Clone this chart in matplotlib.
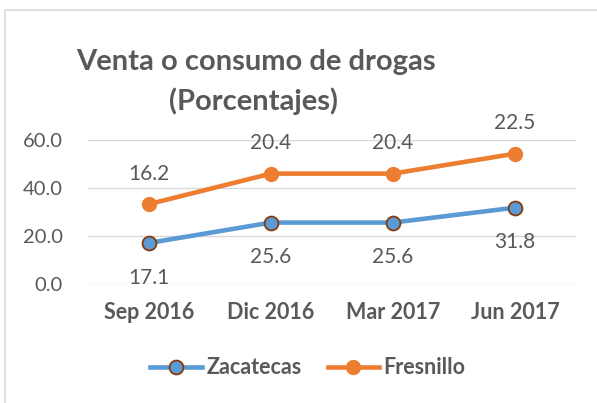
import numpy as np
import matplotlib.pyplot as plt
from matplotlib.patches import Rectangle

# Data (stacked line chart: Fresnillo drawn on top of Zacatecas)
categories = ["Sep 2016", "Dic 2016", "Mar 2017", "Jun 2017"]
zacatecas = [17.1, 25.6, 25.6, 31.8]
fresnillo = [16.2, 20.4, 20.4, 22.5]
yticks = [0, 20, 40, 60]

blue = "#5B9BD5"
orange = "#ED7D31"
brown = "#843C0C"
gray = "#595959"

plt.rcParams['font.family'] = ['Lato', 'DejaVu Sans']

W, H = 597, 403
fig = plt.figure(figsize=(W / 100, H / 100), dpi=100)

# light chart border
fig.patches.append(Rectangle((5 / W, -0.1), 1.2, (H - 10) / H + 0.1,
                             transform=fig.transFigure, fill=False,
                             edgecolor="#D9D9D9", linewidth=1.2))

ax = fig.add_axes([88 / W, 119 / H, 488 / W, 144 / H])
x = np.arange(len(categories))
top = np.array(zacatecas) + np.array(fresnillo)

ax.plot(x, zacatecas, color=blue, linewidth=3.3, marker='o', markersize=10,
        markerfacecolor=blue, markeredgecolor=brown, markeredgewidth=1.3,
        label="Zacatecas", zorder=3)
ax.plot(x, top, color=orange, linewidth=3.3, marker='o', markersize=10,
        markerfacecolor=orange, markeredgecolor=orange,
        label="Fresnillo", zorder=3)

for xi, v in zip(x, zacatecas):
    ax.annotate(f"{v:.1f}", (xi, v), xytext=(0, -25), textcoords='offset points',
                ha='center', va='center', fontsize=15, color=gray)
for xi, v, t in zip(x, fresnillo, top):
    ax.annotate(f"{v:.1f}", (xi, t), xytext=(0, 22), textcoords='offset points',
                ha='center', va='center', fontsize=15, color=gray)

ax.set_xlim(-0.5, 3.5)
ax.set_ylim(0, 60)
ax.set_yticks(yticks)
ax.set_yticklabels([f"{t:.1f}" for t in yticks], fontsize=14.5, color=gray)
ax.set_xticks(x)
ax.set_xticklabels(categories, fontsize=15.5, fontweight='bold', color=gray)
ax.tick_params(axis='y', length=0, pad=18)
ax.tick_params(axis='x', length=0, pad=13)
ax.grid(axis='y', color="#D9D9D9", linewidth=1)
ax.set_axisbelow(True)
for s in ax.spines.values():
    s.set_visible(False)

fig.text(256 / W, 1 - 62 / H, "Venta o consumo de drogas", ha='center', va='center',
         fontsize=21, fontweight='bold', color=gray)
fig.text(254 / W, 1 - 101 / H, "(Porcentajes)", ha='center', va='center',
         fontsize=21, fontweight='bold', color=gray)

fig.legend(loc='center', bbox_to_anchor=(308 / W, 1 - 368 / H), ncol=2, frameon=False,
           prop={'size': 15.5, 'weight': 'bold'}, labelcolor=gray,
           handlelength=2.4, handletextpad=0.2, columnspacing=1.2)

fig.savefig("out.png", dpi=100)
